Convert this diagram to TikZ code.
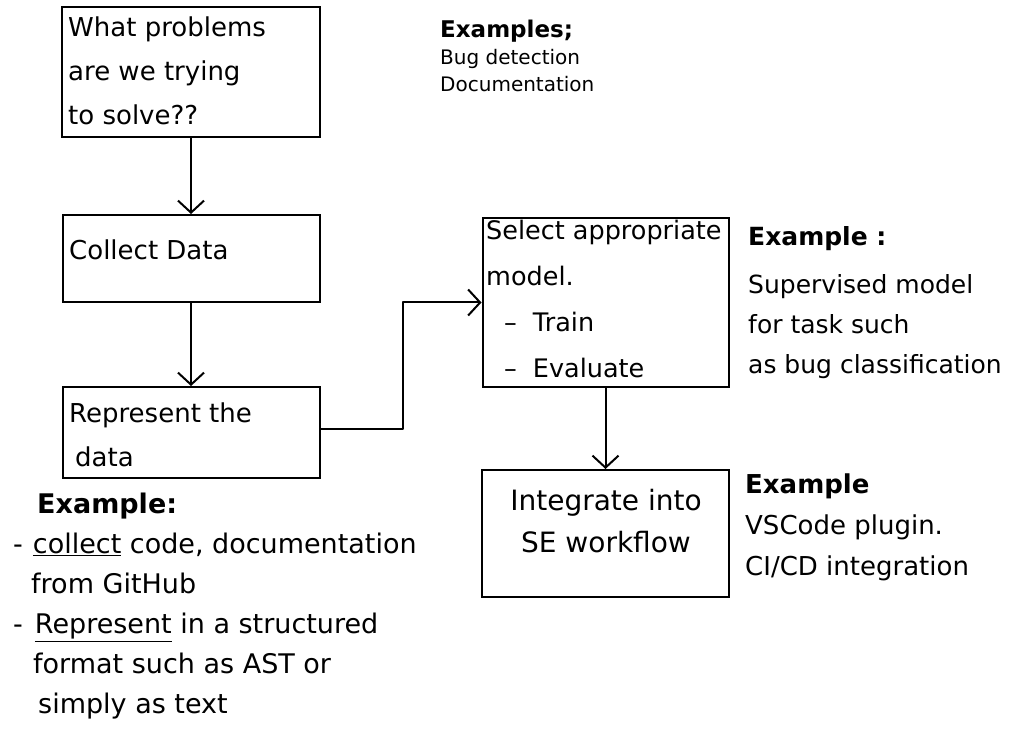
\documentclass[tikz,border=0pt]{standalone}
\usepackage{fontspec}
\setmainfont{DejaVu Sans}
\usetikzlibrary{arrows.meta}

\tikzset{
  stepbox/.style={draw, line width=2pt, inner sep=0pt},
  flow/.style={line width=2pt, line join=round, -{Straight Barb[length=12pt,width=26pt,line width=2pt]}},
  boxtxt/.style={anchor=north west, align=left, inner sep=0pt, font=\fontsize{26}{44}\selectfont},
  notetxt/.style={anchor=north west, align=left, inner sep=0pt, font=\fontsize{25}{40}\selectfont}
}

\begin{document}
\begin{tikzpicture}[x=1pt,y=-1pt]
 \path[fill=white] (0,0) rectangle (1010,743);
 \useasboundingbox (0,0) rectangle (1010,743);
 % boxes
 \node[stepbox, minimum width=258pt, minimum height=130pt] (problem) at (191,72) {};
 \node[stepbox, minimum width=257pt, minimum height=87pt] (collect) at (191,258.5) {};
 \node[stepbox, minimum width=257pt, minimum height=91pt] (represent) at (191,432.5) {};
 \node[stepbox, minimum width=246pt, minimum height=169pt] (select) at (605.5,302.5) {};
 \node[stepbox, minimum width=247pt, minimum height=127pt] (integrate) at (605.5,533.5) {};
 % box texts
 \node[boxtxt] (problemtxt) at (68,17) {What problems\\are we trying\\to solve??};
 \node[boxtxt] (collecttxt) at (69,240) {Collect Data};
 \node[boxtxt] (representtxt) at (69,403) {Represent the\\\hspace*{6pt}data};
 \node[boxtxt, font=\fontsize{25.5}{46}\selectfont] (selecttxt) at (486,220)
  {Select appropriate\\model.\\\hspace*{18pt}–\hspace*{16pt}Train\\\hspace*{18pt}–\hspace*{16pt}Evaluate};
 \node[boxtxt, anchor=north, align=center, font=\fontsize{28}{42}\selectfont] (integratetxt) at (606,489)
  {Integrate into\\SE workflow};
 % examples
 \node[notetxt, font=\fontsize{20}{27}\selectfont] (probex) at (440,20)
  {{\fontsize{23}{27}\selectfont\bfseries Examples;}\\Bug detection\\Documentation};
 \node[notetxt] (selectex) at (748,226)
  {\textbf{Example :}\\[8pt]Supervised model\\for task such\\as bug classification};
 \node[notetxt, font=\fontsize{26}{41}\selectfont] (integrateex) at (745,474)
  {\textbf{Example}\\VSCode plugin.\\CI/CD integration};
 \node[notetxt, font=\fontsize{27}{40}\selectfont] (dataex) at (13,493)
  {\hspace*{24pt}\textbf{Example:}\\
   -\hspace{10pt}\underline{collect} code, documentation\\
   \hspace*{18pt}from GitHub\\
   -\hspace{12pt}\underline{Represent} in a structured\\
   \hspace*{20pt}format such as AST or\\
   \hspace*{25pt}simply as text};
 % connectors
 \draw[flow] (problem) -- (collect);
 \draw[flow] (collect) -- (represent);
 \draw[flow] ([yshift=4pt]represent.east) -- ++(82,0) |- (select.west);
 \draw[flow] (select) -- (integrate);
\end{tikzpicture}
\end{document}
